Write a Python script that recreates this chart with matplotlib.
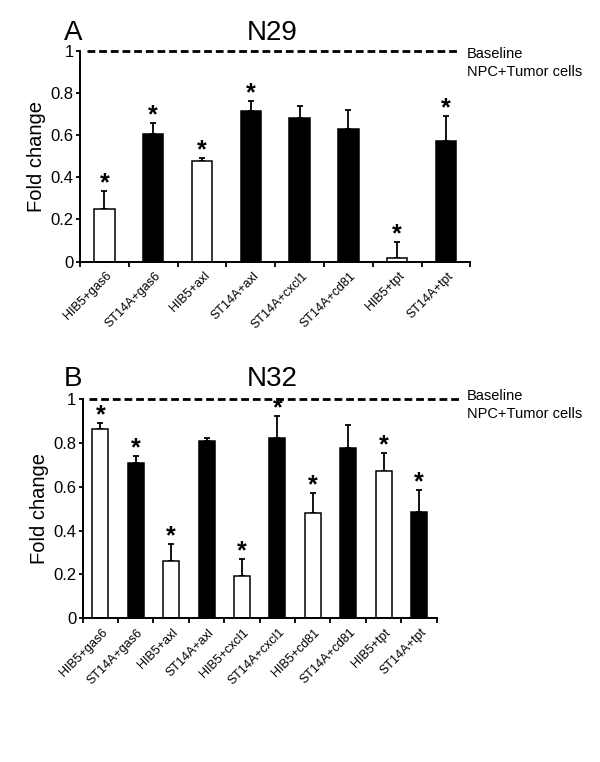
"""Fold change bar charts for N29 and N32 relative to NPC+tumor cell baseline."""

import matplotlib

matplotlib.use("Agg")
import matplotlib.pyplot as plt
import numpy as np

plt.rcParams["font.family"] = ["Liberation Sans", "DejaVu Sans"]

# Panel A: N29
labels_a = ["HIB5+gas6", "ST14A+gas6", "HIB5+axl", "ST14A+axl",
            "ST14A+cxcl1", "ST14A+cd81", "HIB5+tpt", "ST14A+tpt"]
values_a = [0.252, 0.606, 0.478, 0.717, 0.682, 0.630, 0.017, 0.573]
err_a = [0.085, 0.054, 0.016, 0.045, 0.059, 0.092, 0.074, 0.119]
fill_a = ["white", "black", "white", "black", "black", "black", "white", "black"]
sig_a = [True, True, True, True, False, False, True, True]

# Panel B: N32
labels_b = ["HIB5+gas6", "ST14A+gas6", "HIB5+axl", "ST14A+axl", "HIB5+cxcl1",
            "ST14A+cxcl1", "HIB5+cd81", "ST14A+cd81", "HIB5+tpt", "ST14A+tpt"]
values_b = [0.865, 0.707, 0.261, 0.808, 0.192, 0.825, 0.479, 0.779, 0.672, 0.487]
err_b = [0.028, 0.034, 0.078, 0.017, 0.079, 0.099, 0.095, 0.105, 0.083, 0.099]
fill_b = ["white", "black", "white", "black", "white",
          "black", "white", "black", "white", "black"]
sig_b = [True, True, True, False, True, True, True, False, True, True]

baseline = 1.0
yticks = [0, 0.2, 0.4, 0.6, 0.8, 1]
ytick_labels = ["0", "0.2", "0.4", "0.6", "0.8", "1"]


def draw_panel(ax, labels, values, errs, fills, sig, bar_width, line_end,
               label_shift):
    x = np.arange(len(labels))
    ax.bar(x, values, width=bar_width, color=fills, edgecolor="black",
           linewidth=1.1, zorder=2)
    ax.errorbar(x, values, yerr=[np.zeros(len(x)), errs], fmt="none",
                ecolor="black", elinewidth=1.3, capsize=2.5, capthick=1.3,
                zorder=1)
    for xi, v, e, s in zip(x, values, errs, sig):
        if s:
            ax.text(xi, v + e + 0.003, "*", ha="center", va="baseline",
                    fontsize=18, fontweight="bold")

    ax.plot([0.018, line_end], [baseline, baseline],
            transform=ax.get_yaxis_transform(), color="black", lw=2.0,
            dashes=(2.8, 1.4), clip_on=False)

    ax.set_xlim(-0.5, len(labels) - 0.5)
    ax.set_ylim(0, 1)
    ax.set_yticks(yticks)
    ax.set_yticklabels(ytick_labels, fontsize=12)
    # labels sit a little right of the bar centre, as in the original
    ax.set_xticks(x + label_shift)
    ax.set_xticklabels(labels, rotation=45, ha="right", va="center",
                       rotation_mode="anchor", fontsize=9)
    ax.set_xticks(np.arange(len(labels) + 1) - 0.5, minor=True)
    ax.tick_params(axis="x", which="major", length=0, pad=9)
    ax.tick_params(axis="x", which="minor", direction="out", length=3.5,
                   width=1.3)
    ax.tick_params(axis="y", direction="out", length=3, width=1.3, pad=1.5)
    for side in ("top", "right"):
        ax.spines[side].set_visible(False)
    for side in ("left", "bottom"):
        ax.spines[side].set_linewidth(1.4)
    ax.set_ylabel("Fold change", fontsize=14.5, labelpad=3)


fig = plt.figure(figsize=(6, 7.62), dpi=100)

ax_a = fig.add_axes([0.1333, 0.6568, 0.6507, 0.2760])
draw_panel(ax_a, labels_a, values_a, err_a, fill_a, sig_a, 0.42, 0.967, 0.12)

ax_b = fig.add_axes([0.1378, 0.1886, 0.5900, 0.2874])
draw_panel(ax_b, labels_b, values_b, err_b, fill_b, sig_b, 0.45, 1.065, 0.15)

W, H = 600.0, 762.0
for letter, title, yc, yb, yn in [("A", "N29", 32.5, 54, 71.7),
                                  ("B", "N32", 379.5, 396, 414)]:
    fig.text(73 / W, 1 - yc / H, letter, ha="center", va="center", fontsize=20)
    fig.text(272 / W, 1 - yc / H, title, ha="center", va="center", fontsize=20)
    fig.text(467 / W, 1 - yb / H, "Baseline", ha="left", va="center",
             fontsize=10.5)
    fig.text(467 / W, 1 - yn / H, "NPC+Tumor cells", ha="left", va="center",
             fontsize=10.5)

fig.savefig("out.png", dpi=100)
